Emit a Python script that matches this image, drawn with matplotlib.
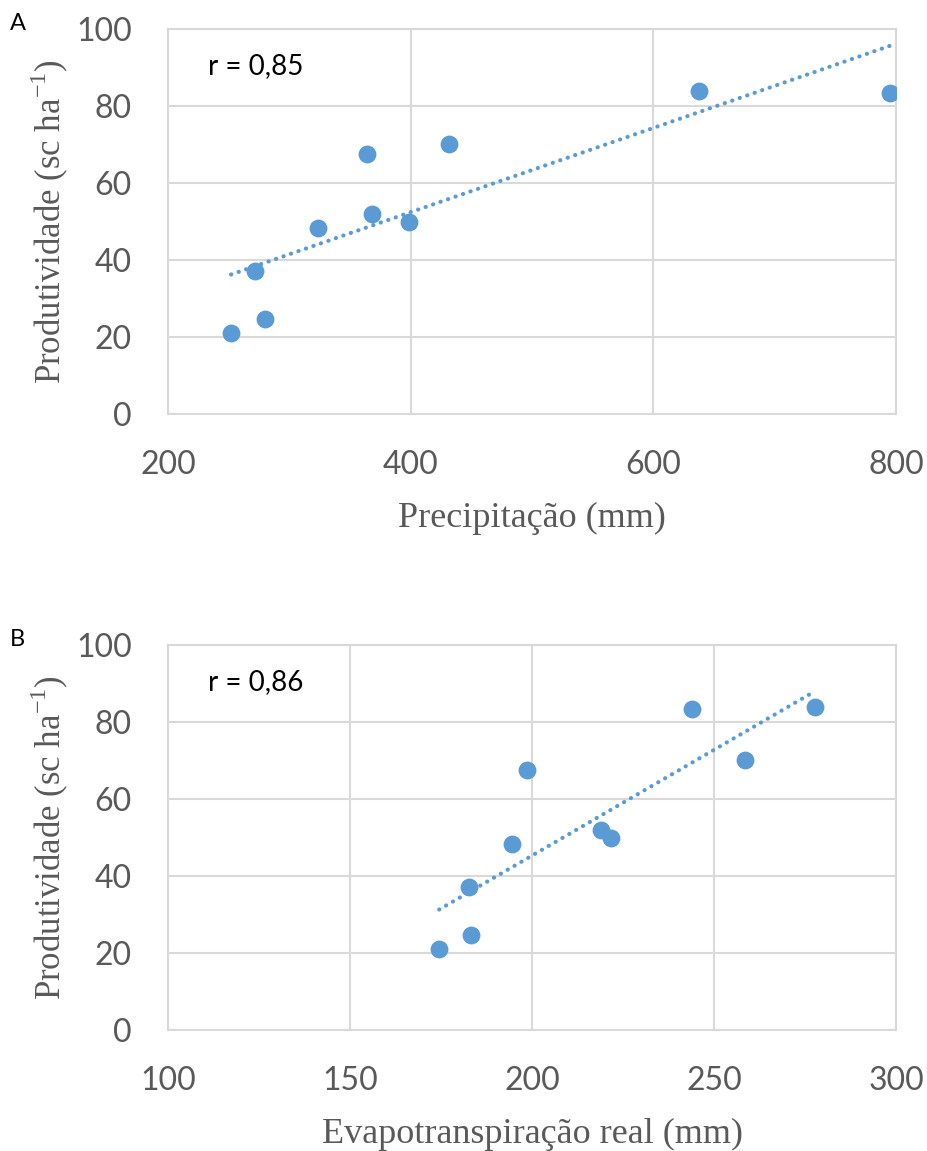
import numpy as np
import matplotlib.pyplot as plt

plt.rcParams['mathtext.fontset'] = 'custom'
plt.rcParams['mathtext.rm'] = 'Liberation Serif'

# data
produtividade = [21.0, 37.1, 24.7, 48.3, 67.5, 51.9, 49.9, 70.1, 83.9, 83.4]
precipitacao = [252, 272, 280, 324, 364, 368, 399, 432, 638, 795]
evapotransp = [174.5, 182.7, 183.2, 194.5, 198.6, 219.0, 221.7, 258.5, 277.7, 244.0]
r_values = ['0,85', '0,86']
panel_letters = ['A', 'B']
xlabels = ['Precipitação (mm)', 'Evapotranspiração real (mm)']
xlims = [(200, 800), (100, 300)]
xticks = [[200, 400, 600, 800], [100, 150, 200, 250, 300]]
yticks = [0, 20, 40, 60, 80, 100]

blue = '#5B9BD5'
grid_c = '#D9D9D9'
tick_c = '#595959'

W, H = 927, 1151
fig = plt.figure(figsize=(W / 100, H / 100), dpi=100)

# axes boxes in pixels: left, top, right, bottom
boxes = [(168, 29, 896, 414), (168, 645, 896, 1030)]
xdata = [precipitacao, evapotransp]

for i in range(2):
    l, t, r, b = boxes[i]
    ax = fig.add_axes([l / W, 1 - b / H, (r - l) / W, (b - t) / H])
    x = np.array(xdata[i])
    y = np.array(produtividade)

    ax.scatter(x, y, s=165, color=blue, zorder=3, linewidths=0)

    # linear trendline
    k, c = np.polyfit(x, y, 1)
    xs = np.array([x.min(), x.max()])
    ax.plot(xs, k * xs + c, linestyle=(0, (0.05, 1.85)), color=blue, lw=3.0,
            dash_capstyle='round', solid_capstyle='round', zorder=2)

    ax.set_xlim(*xlims[i])
    ax.set_ylim(0, 100)
    ax.set_xticks(xticks[i])
    ax.set_yticks(yticks)
    ax.grid(True, color=grid_c, lw=1.5, zorder=0)
    for s in ax.spines.values():
        s.set_color(grid_c)
        s.set_linewidth(1.5)
    ax.tick_params(length=0, labelsize=23, labelcolor=tick_c)
    ax.tick_params(axis='x', pad=26)
    ax.tick_params(axis='y', pad=26)
    for lab in ax.get_xticklabels() + ax.get_yticklabels():
        lab.set_family('Lato')

    ax.set_xlabel(xlabels[i], family='Liberation Serif', fontsize=26,
                  color=tick_c, labelpad=16)
    ax.set_ylabel('Produtividade (sc ha$^{\\mathrm{-1}}$)', family='Liberation Serif',
                  fontsize=25, color=tick_c, labelpad=4)

    ax.text(0.055, 0.905, 'r = ' + r_values[i], transform=ax.transAxes,
            family='Lato', fontsize=20, color='black', va='center')
    fig.text(10 / W, 1 - (t - 5) / H, panel_letters[i], family='Lato',
             fontsize=17, color='black', va='center')

fig.savefig('out.png', dpi=100)
